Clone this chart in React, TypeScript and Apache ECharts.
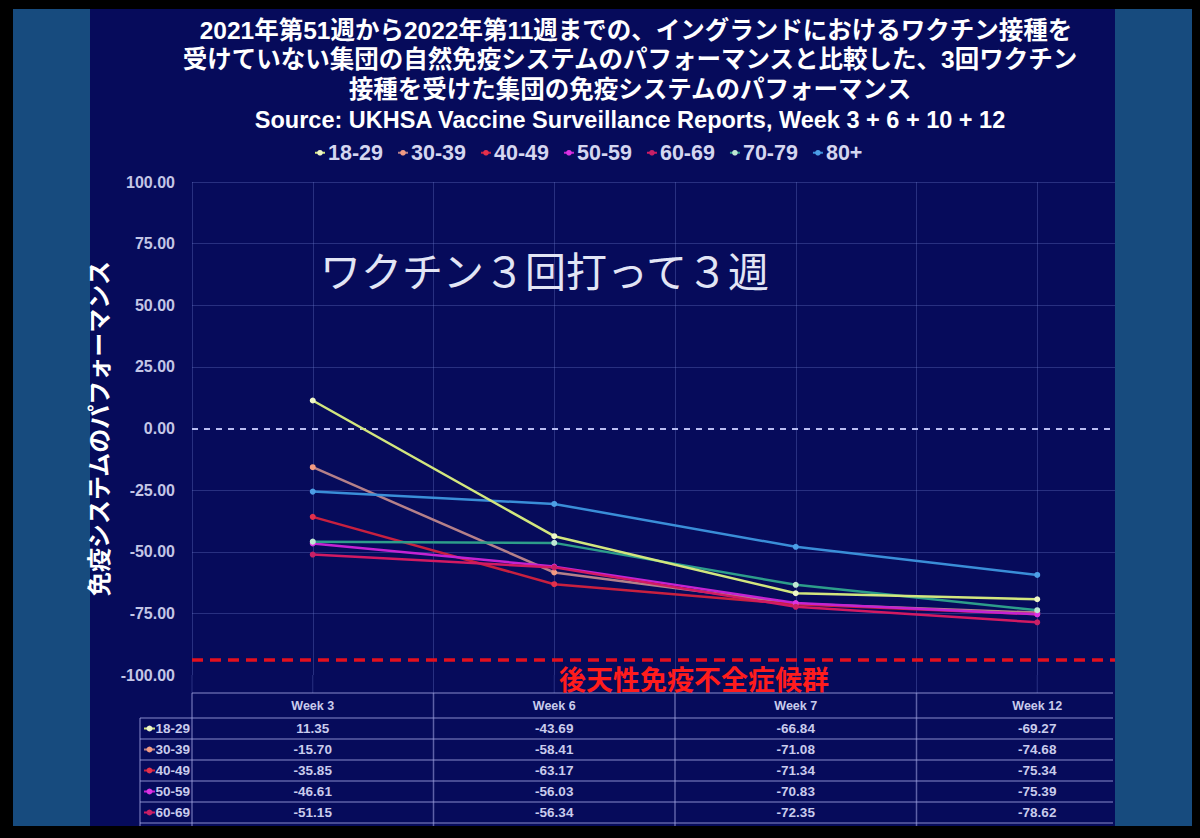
import React, { useEffect, useRef } from "react";
import * as echarts from "echarts";

// ---------- data ----------
const categories = ["Week 3", "Week 6", "Week 7", "Week 12"];
const groups = ["18-29", "30-39", "40-49", "50-59", "60-69", "70-79", "80+"];
const v18_29 = [11.35, -43.69, -66.84, -69.27];
const v30_39 = [-15.7, -58.41, -71.08, -74.68];
const v40_49 = [-35.85, -63.17, -71.34, -75.34];
const v50_59 = [-46.61, -56.03, -70.83, -75.39];
const v60_69 = [-51.15, -56.34, -72.35, -78.62];
const v70_79 = [-45.9, -46.4, -63.4, -73.7];
const v80plus = [-25.6, -30.6, -48.0, -59.4];
const seriesValues = [v18_29, v30_39, v40_49, v50_59, v60_69, v70_79, v80plus];
// rows of the data table that are visible in the picture
const tableGroups = ["18-29", "30-39", "40-49", "50-59", "60-69"];
const yMin = -100;
const yMax = 100;
const yInterval = 25;
const aidsThreshold = -94;
const titleLines = [
  "2021年第51週から2022年第11週までの、イングランドにおけるワクチン接種を",
  "受けていない集団の自然免疫システムのパフォーマンスと比較した、3回ワクチン",
  "接種を受けた集団の免疫システムのパフォーマンス",
  "Source: UKHSA Vaccine Surveillance Reports, Week 3 + 6 + 10 + 12",
];
const overlayText = "ワクチン３回打って３週";
const aidsLabel = "後天性免疫不全症候群";
const yAxisName = "免疫システムのパフォーマンス";

// ---------- styles ----------
const lineColors = ["#d2e67e", "#b58089", "#c8203f", "#c423d2", "#d21a62", "#2d9d8a", "#3a8ed8"];
const markerColors = ["#eef6c8", "#f29a82", "#e3304c", "#dc33e4", "#c82066", "#bfe8d4", "#4d9ee6"];

const W = 1200;
const H = 838;
const GRID_LEFT = 192;
const GRID_RIGHT_X = 1158;
const GRID_TOP = 182;
const GRID_BOTTOM_Y = 675;
const BAND = (GRID_RIGHT_X - GRID_LEFT) / categories.length;
const NAVY = "#060b5b";
const PANEL = "#174b7e";
const GRID_COLOR = "rgba(120,135,215,0.3)";
const TABLE_LINE = "rgba(165,170,230,0.55)";
const TEXT_LIGHT = "#c9cbec";
const FONT = "'Liberation Sans', 'Noto Sans CJK JP', sans-serif";

const TABLE_TOP = 693;
const HEAD_H = 25;
const ROW_H = 21;
const LABEL_LEFT = 140;
const TABLE_RIGHT = 1113;

function buildGraphic(): any[] {
  const g: any[] = [];
  // backgrounds
  g.push({ type: "rect", z: -100, shape: { x: 13, y: 0, width: 77, height: H }, style: { fill: PANEL } });
  g.push({ type: "rect", z: -100, shape: { x: 90, y: 0, width: 1025, height: H }, style: { fill: NAVY } });
  // titles
  const titleY = [30, 59, 89, 120];
  titleLines.forEach((t, i) => {
    g.push({
      type: "text",
      z: 50,
      x: i === 0 ? 636 : 630,
      y: titleY[i],
      style: {
        text: t,
        fill: "#ffffff",
        fontSize: i === 3 ? 23.5 : 24.5,
        fontWeight: "bold",
        fontFamily: FONT,
        textAlign: "center",
        textVerticalAlign: "middle",
      },
    });
  });
  // overlay annotation
  g.push({
    type: "text",
    z: 50,
    x: 320,
    y: 269,
    style: {
      text: overlayText,
      fill: "#e2e5f5",
      fontSize: 41,
      fontFamily: "'Noto Sans CJK JP', sans-serif",
      textAlign: "left",
      textVerticalAlign: "middle",
    },
  });
  // AIDS label
  g.push({
    type: "text",
    z: 50,
    x: 559,
    y: 678,
    style: {
      text: aidsLabel,
      fill: "#ff1c1c",
      fontSize: 27,
      fontWeight: "bold",
      fontFamily: "'Noto Sans CJK JP', sans-serif",
      textAlign: "left",
      textVerticalAlign: "middle",
    },
  });

  // grid line extensions below plot
  for (let i = 0; i < categories.length; i++) {
    const cx = GRID_LEFT + BAND * (i + 0.5);
    g.push({ type: "line", z: 1, shape: { x1: cx, y1: GRID_BOTTOM_Y, x2: cx, y2: TABLE_TOP }, style: { stroke: GRID_COLOR, lineWidth: 1 } });
  }
  for (let i = 0; i < categories.length; i++) {
    const ex = GRID_LEFT + BAND * i;
    g.push({ type: "line", z: 1, shape: { x1: ex, y1: GRID_BOTTOM_Y, x2: ex, y2: TABLE_TOP }, style: { stroke: GRID_COLOR, lineWidth: 1 } });
    g.push({ type: "line", z: 1, shape: { x1: ex, y1: TABLE_TOP, x2: ex, y2: H }, style: { stroke: TABLE_LINE, lineWidth: 1.5 } });
  }
  // table horizontals
  g.push({ type: "line", z: 1, shape: { x1: GRID_LEFT, y1: TABLE_TOP, x2: TABLE_RIGHT, y2: TABLE_TOP }, style: { stroke: TABLE_LINE, lineWidth: 1.5 } });
  for (let r = 0; r <= tableGroups.length; r++) {
    const y = TABLE_TOP + HEAD_H + r * ROW_H;
    g.push({ type: "line", z: 1, shape: { x1: LABEL_LEFT, y1: y, x2: TABLE_RIGHT, y2: y }, style: { stroke: TABLE_LINE, lineWidth: 1.5 } });
  }
  g.push({ type: "line", z: 1, shape: { x1: LABEL_LEFT, y1: TABLE_TOP + HEAD_H, x2: LABEL_LEFT, y2: H }, style: { stroke: TABLE_LINE, lineWidth: 1.5 } });
  // header
  categories.forEach((c, i) => {
    g.push({
      type: "text",
      z: 5,
      x: GRID_LEFT + BAND * (i + 0.5),
      y: TABLE_TOP + HEAD_H / 2,
      style: { text: c, fill: TEXT_LIGHT, fontSize: 12.5, fontWeight: "bold", fontFamily: FONT, textAlign: "center", textVerticalAlign: "middle" },
    });
  });
  // rows
  tableGroups.forEach((name, r) => {
    const gi = groups.indexOf(name);
    const cy = TABLE_TOP + HEAD_H + r * ROW_H + ROW_H / 2;
    g.push({ type: "line", z: 5, shape: { x1: 144, y1: cy, x2: 155, y2: cy }, style: { stroke: lineColors[gi], lineWidth: 2 } });
    g.push({ type: "circle", z: 6, shape: { cx: 149.5, cy, r: 3 }, style: { fill: markerColors[gi] } });
    g.push({
      type: "text",
      z: 5,
      x: 190,
      y: cy,
      style: { text: name, fill: TEXT_LIGHT, fontSize: 13.5, fontWeight: "bold", fontFamily: FONT, textAlign: "right", textVerticalAlign: "middle" },
    });
    seriesValues[gi].forEach((v, i) => {
      g.push({
        type: "text",
        z: 5,
        x: GRID_LEFT + BAND * (i + 0.5),
        y: cy,
        style: { text: v.toFixed(2), fill: TEXT_LIGHT, fontSize: 13.5, fontWeight: "bold", fontFamily: FONT, textAlign: "center", textVerticalAlign: "middle" },
      });
    });
  });

  // overlays: right panel, top/bottom black
  g.push({ type: "rect", z: 200, shape: { x: 1115, y: 0, width: 77, height: H }, style: { fill: PANEL } });
  g.push({ type: "rect", z: 200, shape: { x: 1192, y: 0, width: 8, height: H }, style: { fill: "#000" } });
  g.push({ type: "rect", z: 201, shape: { x: 0, y: 0, width: W, height: 9 }, style: { fill: "#000" } });
  g.push({ type: "rect", z: 201, shape: { x: 0, y: 826, width: W, height: 12 }, style: { fill: "#000" } });
  return g;
}

export default function App() {
  const ref = useRef<HTMLDivElement>(null);
  useEffect(() => {
    if (!ref.current) return;
    const chart = echarts.init(ref.current, undefined, { renderer: "svg" });
    const nTicks = (yMax - yMin) / yInterval + 1;
    const splitColors: string[] = [];
    for (let i = 0; i < nTicks; i++) {
      const val = yMin + i * yInterval;
      splitColors.push(val === yMin || val === 0 ? "rgba(0,0,0,0)" : GRID_COLOR);
    }
    const series: any[] = groups.map((name, idx) => ({
      name,
      type: "line",
      data: seriesValues[idx],
      symbol: "circle",
      symbolSize: 6,
      z: idx === 0 ? 10 : 3,
      lineStyle: { color: lineColors[idx], width: 2.5 },
      itemStyle: { color: markerColors[idx] },
      emphasis: { disabled: true },
    }));
    series[0].markLine = {
      silent: true,
      symbol: "none",
      label: { show: false },
      z: 1,
      data: [
        ...categories.map((c) => ({ xAxis: c, lineStyle: { color: GRID_COLOR, width: 1, type: "solid" } })),
        { yAxis: 0, lineStyle: { color: "#b9bdf2", width: 2, type: [6, 6] } },
        { yAxis: aidsThreshold, lineStyle: { color: "#e3101e", width: 3.5, type: [11, 7] } },
      ],
    };
    chart.setOption({
      animation: false,
      backgroundColor: "#000",
      legend: {
        top: 137,
        left: 309,
        itemGap: 14,
        itemWidth: 10,
        itemHeight: 7,
        data: groups,
        textStyle: { color: "#d4d6f0", fontSize: 21.5, fontWeight: "bold", fontFamily: FONT, padding: [0, 0, 0, -2] },
      },
      grid: {
        left: GRID_LEFT,
        right: W - GRID_RIGHT_X,
        top: GRID_TOP,
        bottom: H - GRID_BOTTOM_Y,
        containLabel: false,
      },
      xAxis: {
        type: "category",
        data: categories,
        boundaryGap: true,
        axisLine: { show: false },
        axisTick: { show: false },
        axisLabel: { show: false },
        splitLine: { show: true, lineStyle: { color: GRID_COLOR, width: 1 } },
      },
      yAxis: {
        type: "value",
        min: yMin,
        max: yMax,
        interval: yInterval,
        name: yAxisName,
        nameLocation: "middle",
        nameGap: 78,
        nameRotate: 90,
        nameTextStyle: { color: "#ffffff", fontSize: 24, fontWeight: "bold", fontFamily: "'Noto Sans CJK JP', sans-serif" },
        axisLine: { show: false },
        axisTick: { show: false },
        axisLabel: {
          color: "#c3c6e6",
          fontSize: 16,
          fontWeight: "bold",
          fontFamily: FONT,
          margin: 17,
          formatter: (v: number) => v.toFixed(2),
        },
        splitLine: { show: true, lineStyle: { color: splitColors, width: 1 } },
      },
      graphic: buildGraphic(),
      series,
    });
    return () => chart.dispose();
  }, []);
  return <div ref={ref} style={{ position: "fixed", left: 0, top: 0, width: W, height: H }} />;
}
